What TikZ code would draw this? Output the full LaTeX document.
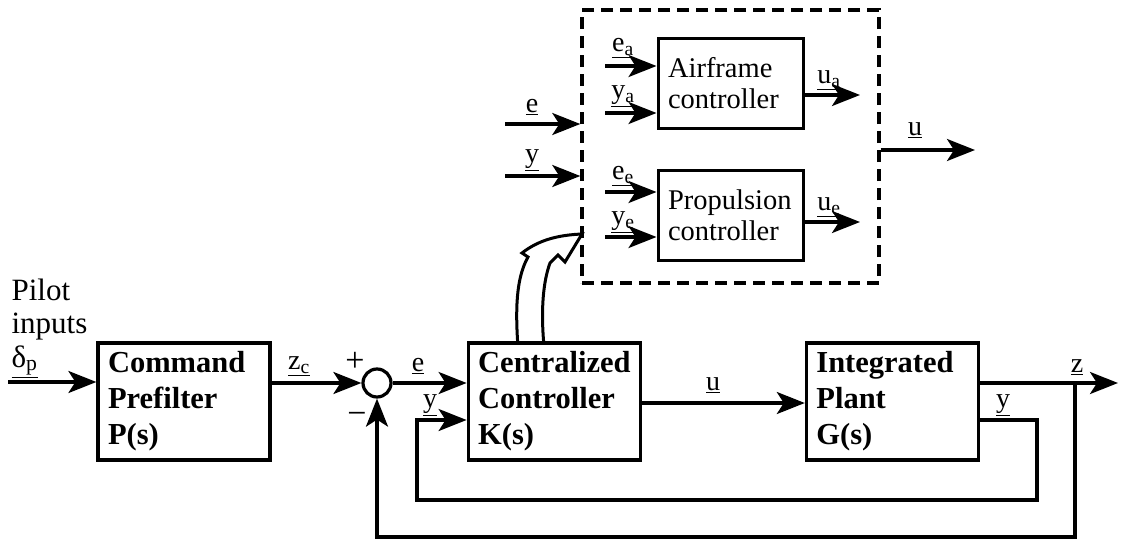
\documentclass[tikz,border=0pt]{standalone}
\usepackage{fontspec}
\setmainfont{Liberation Serif}
\usetikzlibrary{positioning,arrows.meta,calc}

\begin{document}
\begin{tikzpicture}[
        x=1pt, y=-1pt,
        line width=3.2pt,
        every node/.style={inner sep=0pt},
        block/.style={draw, line width=3.2pt, minimum width=172pt, minimum height=117pt, text width=152pt, inner xsep=10pt, align=left, font=\fontsize{30.5}{36}\selectfont\bfseries},
        ctlbox/.style={draw, line width=3pt, minimum width=145pt, minimum height=90pt, text width=125pt, inner xsep=10pt, align=left, font=\fontsize{28.5}{31}\selectfont},
        distbox/.style={draw, line width=3.4pt, dash pattern=on 12pt off 7pt, minimum width=297pt, minimum height=273pt},
        sumnode/.style={draw, circle, line width=3.2pt, minimum size=28pt},
        lab/.style={font=\fontsize{28}{30}\selectfont},
        arrow/.style={-{Stealth[length=28pt, width=22pt, inset=7pt]}},
        fat/.style={line width=3pt, line join=miter}
    ]
        \useasboundingbox (0,0) rectangle (1121,538);

        % Main loop blocks
        \node[block] (pre) at (184,401.5) {Command\\Prefilter\\P(s)};
        \node[block, right=195pt of pre] (ctrl) {Centralized\\Controller\\K(s)};
        \node[block, right=163pt of ctrl] (plant) {Integrated\\Plant\\G(s)};
        \node[sumnode] (sum) at (377,383) {};

        % Pilot input text
        \node[anchor=base west, font=\fontsize{31}{33}\selectfont] (pilot) at (10,300) {Pilot};
        \node[anchor=base west, font=\fontsize{31}{33}\selectfont] (inputs) at (10,333) {inputs};
        \node[anchor=base west, font=\fontsize{31}{33}\selectfont] (deltap) at (10,367) {\underline{δ\textsubscript{p}}};

        % Distributed controllers (dashed)
        \node[distbox] (dist) at (730.5,146.5) {};
        \node[ctlbox] (air) at (730.5,83) {Airframe\\controller};
        \node[ctlbox, below=39pt of air] (prop) {Propulsion\\controller};

        % Signs and signal labels
        \node[lab, font=\fontsize{34}{36}\selectfont] (plus) at (355,362) {+};
        \node[lab, font=\fontsize{34}{36}\selectfont] (minus) at (357,418) {−};
        \node[lab] (lzc) at (299,366) {\underline{z\textsubscript{c}}};
        \node[lab] (le) at (418,366) {\underline{e}};
        \node[lab] (ly) at (430,405) {\underline{y}};
        \node[lab] (lu) at (713,385) {\underline{u}};
        \node[lab] (lz) at (1077,367) {\underline{z}};
        \node[lab] (lyp) at (1003,405) {\underline{y}};
        \node[lab] (le2) at (532,107) {\underline{e}};
        \node[lab] (ly2) at (532,160) {\underline{y}};
        \node[lab] (lea) at (623,48) {\underline{e\textsubscript{a}}};
        \node[lab] (lya) at (623,96) {\underline{y\textsubscript{a}}};
        \node[lab] (lee) at (623,176) {\underline{e\textsubscript{e}}};
        \node[lab] (lye) at (623,222) {\underline{y\textsubscript{e}}};
        \node[lab] (lua) at (829,80) {\underline{u\textsubscript{a}}};
        \node[lab] (lue) at (829,207) {\underline{u\textsubscript{e}}};
        \node[lab] (lu2) at (915,130) {\underline{u}};

        % Free ends
        \coordinate (din) at (8,382);
        \coordinate (yk) at (417,420);
        \coordinate (yr) at (1037,500);
        \coordinate (zr) at (1075,537);
        \coordinate (zout) at (1118,383);
        \coordinate (ein) at (505,124);
        \coordinate (yin) at (505,176);
        \coordinate (ea) at (605,66);
        \coordinate (ya) at (605,113);
        \coordinate (ee) at (605,192);
        \coordinate (ye) at (605,237);
        \coordinate (ua) at (860,95);
        \coordinate (ue) at (860,222);
        \coordinate (uout) at (975,150);

        % Forward path
        \draw[arrow] (din) -- (din -| pre.west);
        \draw[arrow] (pre.east |- sum.west) -- (sum.west);
        \draw[arrow] (sum.east) -- (sum.east -| ctrl.west);
        \draw[arrow] ([yshift=-1.5pt]ctrl.east) -- ([yshift=-1.5pt]plant.west);
        \draw[arrow] (plant.east |- sum) -- (zout);

        % Feedback loops
        \draw[arrow] (plant.east |- yk) -| (yr) -| (yk) -- (yk -| ctrl.west);
        \draw[arrow] (zr |- sum) -- (zr) -| (sum.south);

        % Signals into and out of the dashed box
        \draw[arrow] (ein) -- (ein -| dist.west);
        \draw[arrow] (yin) -- (yin -| dist.west);
        \draw[arrow] (ea) -- (ea -| air.west);
        \draw[arrow] (ya) -- (ya -| air.west);
        \draw[arrow] (ee) -- (ee -| prop.west);
        \draw[arrow] (ye) -- (ye -| prop.west);
        \draw[arrow] (ua -| air.east) -- (ua);
        \draw[arrow] (ue -| prop.east) -- (ue);
        \draw[arrow] (uout -| dist.east) -- (uout);

        % Hollow arrow from K(s) up to the dashed box
        \draw[fat] ($(ctrl.north west)+(51,0)$) .. controls (515,300) and (518,275) .. (528,257)
            -- (522,253) .. controls (540,239) and (560,235) .. (582,234)
            -- (565,262) -- (558,255) -- (550,263)
            .. controls (543,282) and (541,310) .. ($(ctrl.north west)+(77,0)$);

    \end{tikzpicture}
\end{document}
